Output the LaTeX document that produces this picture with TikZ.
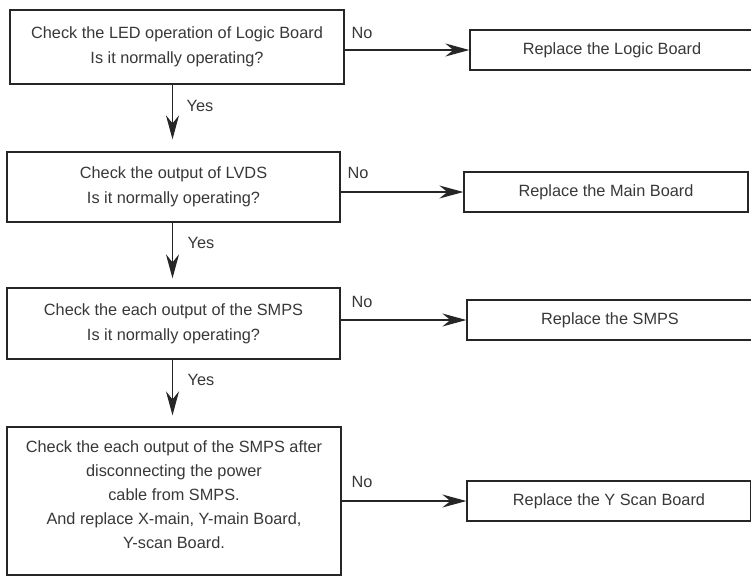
\documentclass[tikz,border=0pt]{standalone}
\usepackage{fontspec}
\setmainfont{Liberation Sans}
\usetikzlibrary{arrows.meta}
\begin{document}
\begin{tikzpicture}[x=1pt,y=-1pt,
  box/.style={draw=black!85, line width=1.3pt, rectangle, inner sep=0pt, align=center, text=black!78, font=\fontsize{16.3}{25}\selectfont},
  txt/.style={inner sep=0pt, align=center, text=black!78, font=\fontsize{16.3}{24}\selectfont},
  lbl/.style={text=black!78, font=\fontsize{16.3}{20}\selectfont, inner sep=0pt},
  arr/.style={draw=black!85, line width=1.3pt, -{Stealth[length=24pt,width=13pt,inset=8pt]}},
]
\useasboundingbox (0,0) rectangle (751,587);
\clip (0,0) rectangle (751,587);
\fill[white] (0,0) rectangle (751,587);

\node[box, minimum width=334pt, minimum height=74pt] (q1) at (177,47) {Check the LED operation of Logic Board\\Is it normally operating?};
\node[box, minimum width=333pt, minimum height=70pt] (q2) at (173.5,187) {Check the output of LVDS\\Is it normally operating?};
\node[box, minimum width=333pt, minimum height=71pt] (q3) at (173.5,323.5) {Check the each output of the SMPS\\Is it normally operating?};
\node[box, minimum width=334pt, minimum height=148pt] (q4) at (174,501) {};
\node[txt] (q4t) at (174,495) {Check the each output of the SMPS after\\disconnecting the power\\cable from SMPS.\\And replace X-main, Y-main Board,\\Y-scan Board.};

\node[box, minimum width=284pt, minimum height=40pt] (r1) at (612,50) {Replace the Logic Board};
\node[box, minimum width=284pt, minimum height=40pt] (r2) at (606,192) {Replace the Main Board};
\node[box, minimum width=286pt, minimum height=40pt] (r3) at (610,320) {Replace the SMPS};
\node[box, minimum width=284pt, minimum height=40pt] (r4) at (609,501) {Replace the Y Scan Board};

\coordinate (xd) at (172.5,0);
\draw[arr, shorten >=12pt] (q1.south -| xd) -- (q2.north -| xd);
\draw[arr, shorten >=9pt] (q2.south -| xd) -- (q3.north -| xd);
\draw[arr, shorten >=11pt] (q3.south -| xd) -- (q4.north -| xd);

\draw[arr] (q1.east |- r1.west) -- (r1.west);
\draw[arr] (q2.east |- r2.west) -- (r2.west);
\draw[arr] (q3.east |- r3.west) -- (r3.west);
\draw[arr] (q4.east |- r4.west) -- (r4.west);

\node[lbl] (n1) at (362,33) {No};
\node[lbl] (n2) at (358,173) {No};
\node[lbl] (n3) at (362,302) {No};
\node[lbl] (n4) at (362,482) {No};

\node[lbl] (y1) at (200,106) {Yes};
\node[lbl] (y2) at (201,243) {Yes};
\node[lbl] (y3) at (201,380) {Yes};
\end{tikzpicture}
\end{document}
